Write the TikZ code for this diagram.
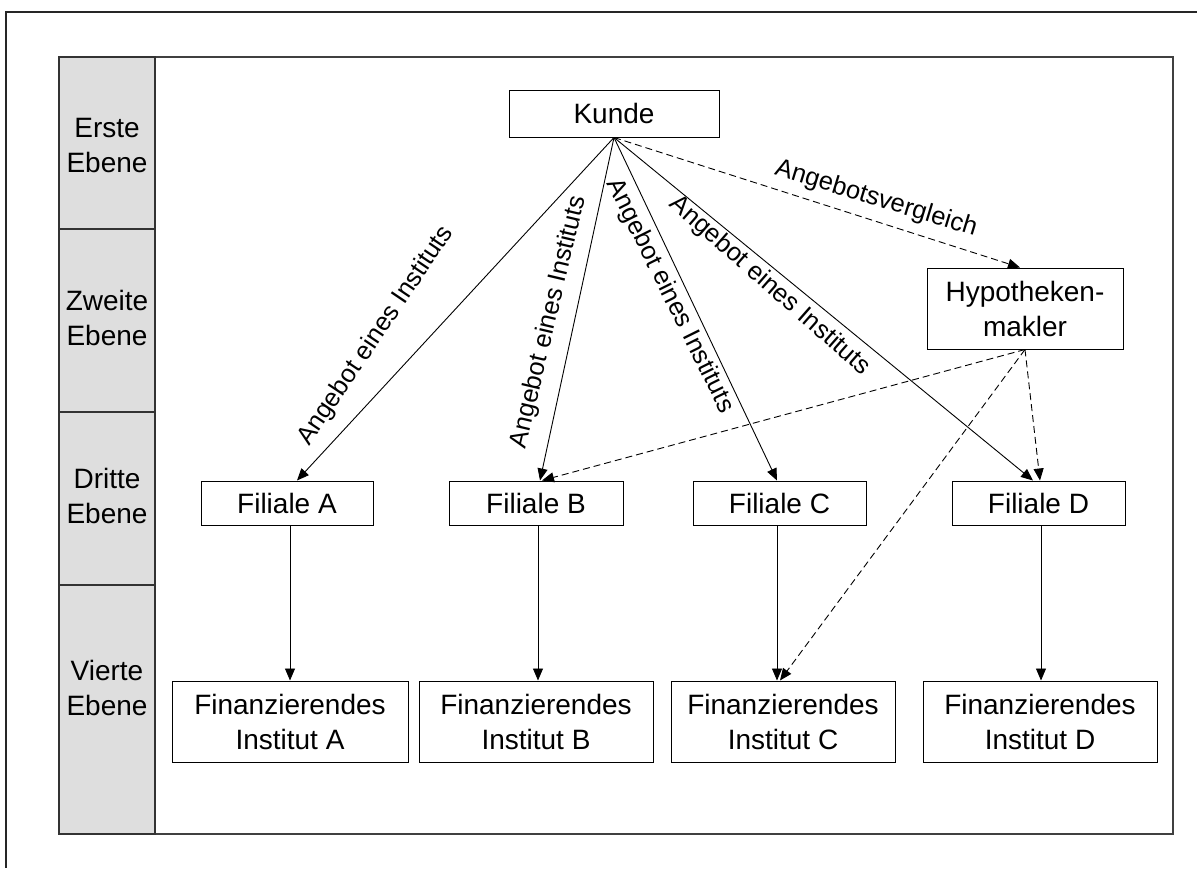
\documentclass[tikz,border=0pt]{standalone}
\usepackage{fontspec}
\setmainfont{Liberation Sans}
\usetikzlibrary{arrows.meta}
\newcommand\bxfont{\fontsize{28}{35}\selectfont}
\newcommand\lbfont{\fontsize{25.5}{30}\selectfont}
\begin{document}
\begin{tikzpicture}[x=1pt,y=-1pt,
  box/.style={draw, line width=1pt, fill=white, inner sep=0pt, align=center, font=\bxfont},
  lvl/.style={inner sep=0pt, align=center, font=\bxfont},
  lbl/.style={inner sep=0pt, font=\lbfont},
  arr/.style={line width=0.9pt, -{Triangle[length=12pt,width=10pt]}},
  darr/.style={arr, dash pattern=on 7pt off 4pt}]
\useasboundingbox (0,0) rectangle (1197,868);

% outer frame (top and left edges)
\draw[line width=2pt, black!85] (1197,12) -- (6,12) -- (6,868);

% level column and drawing area
\draw[line width=1.5pt, black!75] (59,57) rectangle (1173,834);
\fill[black!13] (59,57) rectangle (155,834);
\draw[line width=1.2pt, black!80] (59,57) rectangle (155,834);
\draw[line width=1.2pt, black!80] (59,229) -- (155,229) (59,412) -- (155,412) (59,585) -- (155,585);

\node[lvl] (l1) at (107,145) {Erste\\Ebene};
\node[lvl] (l2) at (107,318) {Zweite\\Ebene};
\node[lvl] (l3) at (107,496) {Dritte\\Ebene};
\node[lvl] (l4) at (107,688) {Vierte\\Ebene};

% boxes
\node[box, minimum width=210, minimum height=47] (kunde) at (614,113.5) {Kunde};
\node[box, minimum width=196, minimum height=81] (hypo) at (1025,308.5) {Hypotheken-\\makler};

\node[box, minimum width=172, minimum height=44] (filA) at (287,503) {Filiale A};
\node[box, minimum width=174, minimum height=44] (filB) at (536,503) {Filiale B};
\node[box, minimum width=173, minimum height=44] (filC) at (779.5,503) {Filiale C};
\node[box, minimum width=173, minimum height=44] (filD) at (1038.5,503) {Filiale D};

\node[box, minimum width=236, minimum height=81] (finA) at (290,721.5) {Finanzierendes\\Institut A};
\node[box, minimum width=234, minimum height=81] (finB) at (536,721.5) {Finanzierendes\\Institut B};
\node[box, minimum width=224, minimum height=81] (finC) at (783,721.5) {Finanzierendes\\Institut C};
\node[box, minimum width=234, minimum height=81] (finD) at (1040,721.5) {Finanzierendes\\Institut D};

% direct offers
\draw[arr] (kunde.south) -- ([xshift=10pt]filA.north);
\draw[arr] (kunde.south) -- ([xshift=4pt]filB.north);
\draw[arr] (kunde.south) -- ([xshift=-2.5pt]filC.north);
\draw[arr] (kunde.south) -- ([xshift=-5.5pt]filD.north);

% broker paths
\draw[darr] (kunde.south) -- ([xshift=-5pt]hypo.north);
\draw[darr] (hypo.south) -- ([xshift=6pt]filB.north);
\draw[darr] (hypo.south) -- ([xshift=1.5pt]filD.north);
\draw[darr] (hypo.south) -- ([xshift=-3pt]finC.north);

% branch to institute
\draw[arr] ([xshift=3pt]filA.south) -- ([xshift=3pt]filA.south |- finA.north);
\draw[arr] ([xshift=2pt]filB.south) -- ([xshift=2pt]filB.south |- finB.north);
\draw[arr] ([xshift=-2.5pt]filC.south) -- ([xshift=-2.5pt]filC.south |- finC.north);
\draw[arr] ([xshift=2.5pt]filD.south) -- ([xshift=2.5pt]filD.south |- finD.north);

% edge labels
\node[lbl, rotate=56] (tA) at (376,336) {Angebot eines Instituts};
\node[lbl, rotate=76.7] (tB) at (549,322) {Angebot eines Instituts};
\node[lbl, rotate=-63.6] (tC) at (670,296) {Angebot eines Instituts};
\node[lbl, rotate=-41.3] (tD) at (770,286) {Angebot eines Instituts};
\node[lbl, rotate=-17] (tV) at (876,199) {Angebotsvergleich};
\end{tikzpicture}
\end{document}
